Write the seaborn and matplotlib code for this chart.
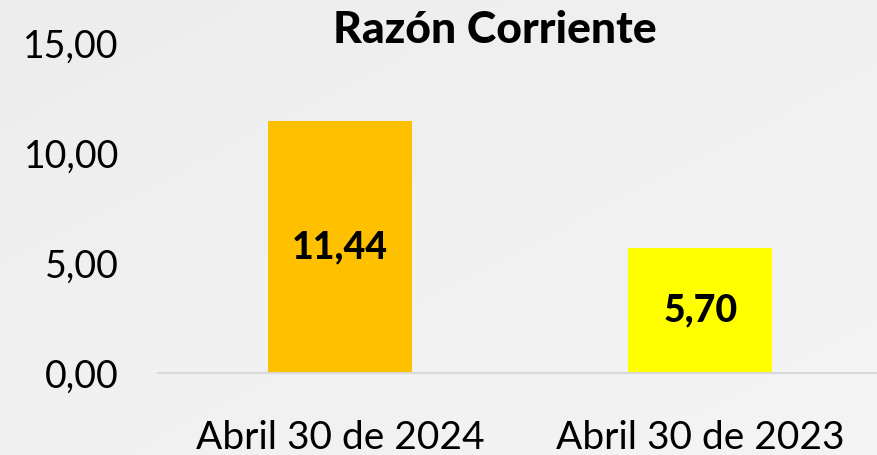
import matplotlib
matplotlib.use("Agg")
import matplotlib.pyplot as plt
import seaborn as sns
import pandas as pd
import numpy as np

categories = ["Abril 30 de 2024", "Abril 30 de 2023"]
values = [11.44, 5.70]
value_labels = ["11,44", "5,70"]
bar_colors = ["#FFC000", "#FFFF00"]
ytick_values = [0, 5, 10, 15]
ytick_labels = ["0,00", "5,00", "10,00", "15,00"]
title = "Razón Corriente"

sns.set_theme(style="white")
plt.rcParams["font.family"] = ["Lato", "DejaVu Sans"]

df = pd.DataFrame({"fecha": categories, "valor": values})

fig = plt.figure(figsize=(8.77, 4.55), dpi=100)
bg = "#EEEFEE"
fig.patch.set_facecolor(bg)

# subtle background gradient
bgax = fig.add_axes([0, 0, 1, 1], zorder=-10)
yy, xx = np.mgrid[0:1:200j, 0:1:400j]
grad = 0.5 * xx + 0.5 * (1 - yy)
bgax.imshow(grad, cmap=matplotlib.colors.LinearSegmentedColormap.from_list("g", ["#ECEDEC", "#F4F4F4"]),
            aspect="auto", extent=[0, 1, 0, 1], origin="lower")
bgax.axis("off")

ax = fig.add_axes([0.180, 0.1802, 0.820, 0.7253])
ax.set_facecolor("none")
sns.barplot(data=df, x="fecha", y="valor", hue="fecha", palette=bar_colors,
            width=0.4, saturation=1, legend=False, ax=ax, linewidth=0,
            edgecolor="none")

ax.set_xlim(-0.505, 1.49)
ax.set_ylim(0, 15)
ax.set_yticks(ytick_values)
ax.set_yticklabels(ytick_labels)
ax.set_xlabel("")
ax.set_ylabel("")
for s in ["top", "right", "left"]:
    ax.spines[s].set_visible(False)
ax.spines["bottom"].set_color("#D9D9D9")
ax.spines["bottom"].set_linewidth(1.5)
ax.tick_params(axis="both", length=0, labelcolor="#000000")
ax.tick_params(axis="y", pad=28, labelsize=27)
ax.tick_params(axis="x", pad=34, labelsize=28)
for lab in ax.get_xticklabels() + ax.get_yticklabels():
    lab.set_fontweight("normal")

for i, (v, t) in enumerate(zip(values, value_labels)):
    ax.text(i, v / 2, t, ha="center", va="center", fontsize=27,
            fontweight="black", color="#000000")

fig.text(0.564, 0.934, title, ha="center", va="center", fontsize=32,
         fontweight="black", color="#000000")

fig.savefig("out.png", dpi=100, facecolor=fig.get_facecolor())
